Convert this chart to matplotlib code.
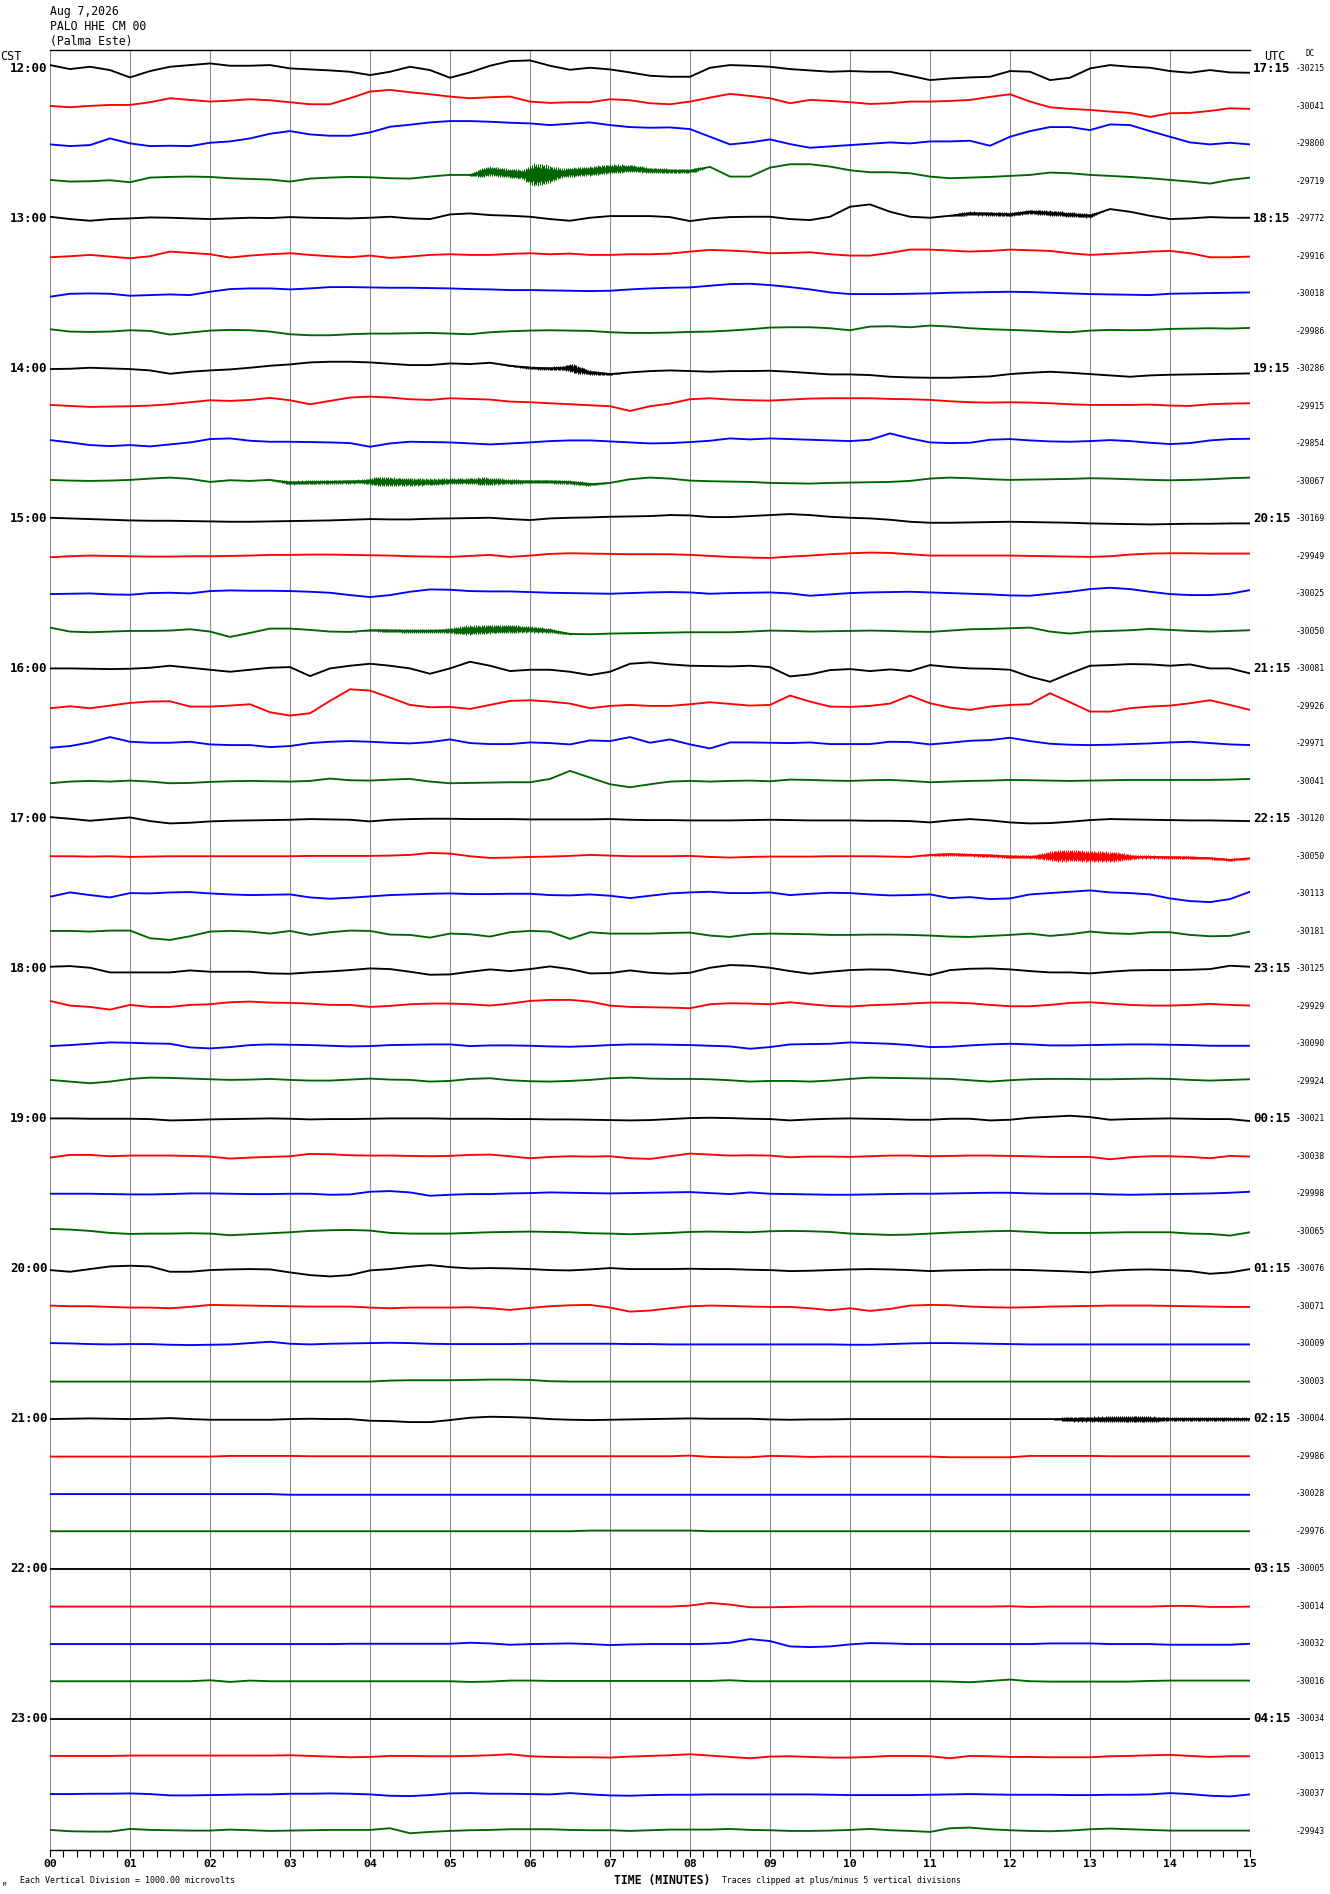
import numpy as np
import matplotlib
matplotlib.use("Agg")
import matplotlib.pyplot as plt
from matplotlib.ticker import MultipleLocator

# ---------------- header / labels ----------------
DATE_LABEL = "Aug 7,2026"
STATION_LABEL = "PALO HHE CM 00"
SITE_LABEL = "(Palma Este)"
CST_HOURS = ["12:00", "13:00", "14:00", "15:00", "16:00", "17:00",
             "18:00", "19:00", "20:00", "21:00", "22:00", "23:00"]
UTC_HOURS = ["17:15", "18:15", "19:15", "20:15", "21:15", "22:15",
             "23:15", "00:15", "01:15", "02:15", "03:15", "04:15"]
MINUTE_LABELS = ["00", "01", "02", "03", "04", "05", "06", "07",
                 "08", "09", "10", "11", "12", "13", "14", "15"]
DC_VALUES = [-30215, -30041, -29800, -29719, -29772, -29916, -30018, -29986,
             -30286, -29915, -29854, -30067, -30169, -29949, -30025, -30050,
             -30081, -29926, -29971, -30041, -30120, -30050, -30113, -30181,
             -30125, -29929, -30090, -29924, -30021, -30038, -29998, -30065,
             -30076, -30071, -30009, -30003, -30004, -29986, -30028, -29976,
             -30005, -30014, -30032, -30016, -30034, -30013, -30037, -29943]
TRACE_COLORS = ["#000000", "#ff0000", "#0000ff", "#006400"]

SAMPLE_STEP_MIN = 0.25      # one value every 15 s
TRACE_SPACING = 112.5       # counts between successive trace baselines

# ---------------- trace offsets (counts, up = positive) ----------------
t1200 = [11,-1,6,-4, -26,-7,6,11, 16,9,9,11, 1,-2,-5,-9, -19,-9,6,-4, -27,-11,9,23, 25,9,-3,3, -2,-11,-21,-24, -24,3,11,9, 6,-1,-5,-9, -7,-9,-9,-21, -34,-29,-26,-24, -7,-9,-34,-27, 1,11,6,3, -7,-12,-4,-11, -12]
t1215 = [1,-3,1,4, 4,12,24,19, 14,17,21,18, 12,6,6,24, 44,49,42,36, 29,24,27,29, 14,10,12,12, 21,18,9,6, 14,26,37,31, 24,9,19,16, 12,7,9,14, 14,16,19,28, 36,14,-3,-8, -11,-16,-20,-32, -21,-20,-14,-6, -8]
t1230 = [-2,-7,-4,16, 1,-7,-6,-7, 3,7,16,30, 38,28,24,24, 34,51,57,64, 68,68,66,63, 61,56,60,64, 56,50,48,49, 44,21,-2,4, 13,-1,-12,-8, -4,0,4,1, 7,7,9,-6, 21,38,50,50, 41,58,56,38, 21,4,-2,3, -2]
t1245 = [4,-1,0,3, -3,11,13,14, 13,9,7,5, -1,8,11,13, 12,9,8,14, 19,19,31,24, 19,21,27,31, 37,39,33,31, 31,43,14,14, 41,51,51,44, 33,27,27,24, 14,9,11,13, 16,19,26,24, 19,16,13,9, 4,-1,-7,4, 11]
t1300 = [6,-1,-6,-1, 1,4,3,1, -1,1,3,2, 5,3,2,1, 3,6,1,-1, 13,16,11,9, 6,-1,-6,3, 8,8,8,5, -7,1,5,6, 6,-1,-4,6, 36,43,21,6, 3,9,16,15, 13,21,17,13, 9,29,21,9, -1,1,5,3, 3]
t1315 = [-3,0,4,-1, -6,0,14,10, 6,-4,2,6, 9,4,0,-3, 2,-5,-1,4, 6,4,4,7, 9,6,8,4, 4,6,6,8, 14,19,17,14, 9,10,12,6, 2,2,10,20, 20,17,14,16, 20,18,16,9, 4,7,10,14, 16,9,-3,-3, -1]
t1330 = [-9,0,1,0, -6,-4,-2,-4, 6,14,16,16, 13,16,20,20, 19,18,18,17, 16,14,13,11, 11,10,9,8, 9,13,16,18, 19,24,29,30, 26,20,13,4, -1,-1,-1,0, 1,3,4,5, 6,5,3,1, -1,-2,-3,-4, 0,1,2,3, 4]
t1345 = [6,-1,-2,-1, 3,1,-10,-4, 2,4,3,-1, -9,-12,-12,-9, -7,-7,-6,-5, -7,-9,-3,0, 2,3,2,1, -3,-5,-5,-4, -2,-1,2,6, 11,12,12,9, 3,14,15,12, 17,14,9,6, 4,2,-1,-3, 2,4,3,4, 7,8,9,8, 10]
t1400 = [-1,0,3,1, -1,-5,-15,-9, -5,-2,3,9, 13,19,21,21, 19,15,11,11, 16,14,18,9, 3,1,3,-11, -16,-11,-7,-5, -7,-9,-7,-7, -6,-9,-13,-17, -17,-19,-24,-26, -27,-27,-25,-23, -16,-12,-9,-12, -16,-20,-24,-20, -18,-17,-16,-15, -14]
t1415 = [4,1,-2,-1, 0,2,6,12, 18,16,19,25, 18,6,16,26, 29,26,21,19, 24,22,20,14, 12,9,6,3, 0,-14,0,8, 21,24,20,18, 17,20,23,24, 24,24,22,21, 19,15,12,11, 12,11,9,6, 4,4,4,5, 2,1,6,8, 9]
t1430 = [11,4,-4,-7, -4,-8,-2,4, 14,16,9,6, 6,5,4,2, -9,1,6,5, 4,1,-2,1, 4,8,10,10, 7,4,1,2, 5,9,16,13, 16,14,12,10, 8,12,31,16, 4,2,3,12, 14,10,7,6, 8,11,8,3, -1,2,10,14, 15]
t1445 = [4,2,1,2, 4,8,11,7, -2,3,1,4, -4,-3,-2,-1, 0,-1,-2,-2, 0,1,0,-1, -1,-1,-3,-9, -5,6,11,8, 2,0,-1,-2, -5,-6,-7,-5, -4,-3,-2,1, 8,11,9,6, 4,5,6,7, 9,8,6,4, 3,4,6,9, 11]
t1500 = [3,1,-1,-3, -5,-6,-6,-7, -8,-9,-9,-8, -7,-6,-5,-3, -1,-2,-2,0, 1,2,3,-1, -4,1,3,4, 6,7,8,11, 10,5,5,8, 11,14,11,6, 3,1,-3,-9, -12,-12,-11,-10, -9,-10,-11,-12, -14,-15,-16,-17, -16,-15,-15,-14, -14]
t1515 = [-3,0,2,1, 0,-1,-1,0, 0,1,2,4, 4,5,5,4, 3,2,0,-1, -2,1,4,-2, 2,7,9,8, 7,6,6,6, 4,1,-2,-4, -5,-1,2,6, 9,11,10,6, 2,2,2,2, 2,1,0,-1, -2,0,5,8, 9,9,8,8, 8]
t1530 = [-1,0,1,-2, -3,2,3,1, 8,10,9,9, 8,6,3,-4, -10,-4,6,13, 12,8,7,7, 5,3,2,1, 0,2,4,5, 4,0,2,3, 4,1,-6,-2, 2,4,5,6, 4,2,0,-2, -5,-6,0,6, 14,18,14,6, -1,-4,-4,0, 11]
t1545 = [11,-1,-3,-1, 1,1,2,6, -1,-17,-5,8, 8,4,-1,-2, 3,2,1,1, 2,4,6,7, 6,2,-8,-9, -7,-6,-5,-4, -3,-3,-3,-1, 2,1,-1,0, 1,2,1,-1, -2,2,6,7, 9,11,-1,-7, -1,1,3,7, 4,1,-1,1, 3]
t1600 = [1,1,0,-1, 0,3,9,3, -3,-9,-3,3, 5,-22,1,9, 15,9,1,-15, 1,21,9,-7, -3,-3,-9,-19, -9,15,19,13, 9,8,7,9, 5,-23,-17,-4, -1,-7,-2,-7, 11,5,1,0, -3,-24,-39,-14, 9,11,14,13, 9,13,1,1, -14]
t1615 = [-6,0,-6,2, 10,14,15,-1, -1,2,6,-18, -28,-21,16,51, 47,26,4,-3, -2,-8,4,16, 18,14,8,-6, 1,4,1,1, 6,12,7,2, 4,32,14,-1, -2,1,8,32, 9,-4,-11,-1, 4,6,39,12, -16,-16,-6,-1, 2,9,18,4, -11]
t1630 = [-12,-7,4,20, 6,3,3,6, -2,-4,-4,-10, -7,2,6,8, 6,3,1,5, 13,2,-1,-1, 4,2,-2,10, 8,20,3,13, -2,-14,4,4, 3,2,4,-1, -1,-1,6,5, -2,3,9,11, 18,8,0,-3, -4,-3,-1,1, 4,6,2,-2, -4]
t1645 = [-6,-1,1,-1, 2,-1,-6,-5, -2,0,1,0, -1,1,8,3, 2,5,7,-1, -6,-5,-4,-3, -3,7,31,11, -9,-18,-9,-1, 1,-1,1,2, 0,5,4,2, 1,3,4,1, -3,-1,1,2, 4,3,2,1, 2,3,4,4, 4,4,4,5, 7]
t1700 = [5,0,-6,-1, 4,-7,-14,-12, -8,-6,-5,-4, -3,-1,-2,-3, -8,-3,-1,0, 0,-1,-1,-1, -2,-2,-2,-2, -1,-3,-4,-4, -5,-5,-5,-4, -3,-4,-5,-5, -5,-6,-6,-7, -11,-5,-1,-5, -11,-14,-13,-9, -4,-1,-2,-3, -4,-5,-5,-6, -7]
t1715 = [0,0,-1,0, -2,-1,0,0, 0,0,0,0, 0,1,1,1, 1,2,4,10, 8,0,-5,-4, -2,-1,1,4, 2,0,0,0, 1,-2,-4,-2, -1,-1,-1,0, 0,0,-1,-2, 4,6,4,2, -1,-2,1,2, 0,-1,-2,-2, -3,-4,-6,-11, -6]
t1730 = [-9,4,-4,-11, 2,1,4,5, 1,-2,-4,-3, -2,-11,-15,-12, -8,-4,-2,0, 1,-1,-1,0, 0,-4,-5,-2, -6,-13,-6,1, 4,6,2,2, 4,-4,0,3, 2,-2,-5,-4, -2,-13,-10,-16, -14,-2,2,6, 10,4,2,-2, -14,-22,-25,-16, 6]
t1745 = [1,1,-1,2, 2,-21,-26,-15, -1,1,-1,-7, 1,-11,-3,2, 1,-10,-11,-19, -7,-9,-16,-3, 1,-1,-23,-3, -7,-7,-7,-5, -4,-13,-17,-9, -7,-8,-9,-11, -11,-10,-10,-11, -13,-16,-17,-14, -11,-7,-14,-9, -1,-6,-8,-3, -3,-11,-15,-14, -1]
t1800 = [6,8,3,-11, -11,-11,-11,-5, -9,-9,-9,-14, -15,-11,-8,-4, 1,-1,-9,-18, -17,-9,-2,-7, -1,7,-1,-14, -13,-5,-12,-15, -12,3,11,9, 3,-7,-15,-9, -4,-2,-3,-11, -19,-4,0,1, -2,-7,-11,-11, -14,-9,-5,-4, -4,-3,-1,9, 6]
t1815 = [16,2,-2,-10, 4,-2,-2,4, 6,12,14,11, 10,8,4,4, -2,1,6,8, 8,6,2,8, 16,19,19,14, 2,-2,-3,-4, -6,6,9,8, 6,12,6,1, -1,3,5,8, 11,11,9,4, 0,0,4,10, 12,8,4,2, 2,4,7,4, 2]
t1830 = [-7,-4,0,4, 3,1,0,-11, -14,-10,-4,-2, -3,-4,-6,-8, -7,-4,-3,-2, -2,-7,-5,-5, -6,-8,-9,-7, -4,-2,-2,-3, -4,-6,-8,-15, -10,-2,-1,0, 4,2,0,-4, -10,-9,-5,-2, 0,-2,-5,-5, -4,-3,-2,-2, -3,-4,-6,-6, -6]
t1845 = [4,-1,-6,-1, 7,11,10,8, 6,4,5,7, 4,2,2,5, 8,5,4,-1, 1,7,9,3, 0,-1,1,4, 9,11,8,7, 7,6,3,-1, 1,1,-1,2, 7,11,10,9, 8,7,3,-1, 3,6,7,7, 6,6,7,8, 7,4,2,4, 6]
t1900 = [1,1,0,0, 0,-1,-5,-4, -2,-1,0,1, 0,-2,-1,-1, 0,1,1,1, 0,0,0,-1, -1,-2,-2,-3, -4,-5,-4,-1, 2,3,2,0, -1,-5,-2,0, 1,0,-1,-3, -3,0,0,-5, -3,3,6,9, 5,-3,-1,0, 1,0,-1,-1, -7]
t1915 = [-4,4,4,0, 2,2,2,1, -1,-7,-4,-2, 0,7,6,3, 2,2,1,0, 1,4,5,0, -6,-2,0,-1, 0,-6,-8,0, 8,5,2,3, 2,-3,-1,-1, -2,0,2,2, 0,1,2,2, 1,0,-2,-2, -2,-9,-3,0, 0,-2,-6,1, -1]
t1930 = [0,0,0,-1, -2,-2,-1,1, 1,0,-1,-1, 0,0,-3,-2, 6,8,4,-6, -3,-1,-1,1, 2,4,3,2, 1,2,3,4, 5,2,-1,4, 0,-1,-2,-3, -3,-2,-1,0, 0,1,2,3, 3,1,0,0, 0,-2,-3,-2, -1,0,1,3, 6]
t1945 = [7,5,1,-5, -8,-7,-7,-6, -7,-12,-9,-6, -3,1,3,4, 2,-5,-7,-7, -7,-5,-3,-2, -1,-2,-3,-6, -7,-9,-7,-5, -2,-1,-2,-3, 0,1,0,-2, -7,-9,-11,-10, -7,-4,-2,0, 1,-2,-5,-5, -5,-4,-3,-3, -3,-7,-8,-13, -3]
t2000 = [-4,-9,-1,7, 9,7,-9,-9, -4,-2,-1,-2, -11,-19,-23,-19, -5,-1,6,11, 5,1,2,1, -1,-4,-5,-2, 2,-1,-1,-1, 0,-1,-1,-3, -4,-7,-6,-4, -2,-1,-2,-4, -7,-5,-4,-3, -3,-4,-6,-8, -11,-6,-3,-2, -4,-7,-15,-11, -1]
t2015 = [2,0,0,-2, -4,-4,-6,-2, 4,3,2,1, 0,-1,-1,-1, -4,-6,-4,-4, -4,-3,-6,-11, -5,0,3,4, -4,-16,-13,-6, 0,2,1,-1, -2,-2,-6,-12, -6,-14,-8,2, 4,3,-1,-3, -4,-3,-1,0, 1,2,2,2, 1,0,-1,-2, -2]
t2030 = [2,1,-1,-2, -1,-1,-3,-4, -3,-2,2,6, 0,-2,0,1, 2,3,2,0, -1,-1,-1,-1, 0,0,0,0, 0,-1,-1,-2, -2,-2,-2,-2, -2,-2,-2,-2, -3,-3,-1,1, 2,2,1,0, -1,-2,-2,-2, -2,-2,-2,-2, -2,-2,-2,-2, -2]
t2045 = [-1,-1,-1,-1, -1,-1,-1,-1, -1,-1,-1,-1, -1,-1,-1,-1, -1,2,3,3, 3,4,5,5, 4,0,-1,-1, -1,-1,-1,-1, -1,-1,-1,-1, -1,-1,-1,-1, -1,-1,-1,-1, -1,-1,-1,-1, -1,-1,-1,-1, -1,-1,-1,-1, -1,-1,-1,-1, -1]
t2100 = [-1,0,1,0, -1,0,2,-1, -3,-3,-3,-3, -1,0,-1,-1, -6,-7,-10,-10, -4,3,6,5, 3,-1,-3,-4, -3,-2,-1,0, 1,0,0,0, -2,-3,-2,-2, -1,-1,-1,-1, -1,-1,-1,-1, -1,-1,-1,-1, -1,-1,-1,-1, -1,-1,-1,-1, -1]
t2115 = [-1,-1,-1,-1, -1,-1,-1,-1, -1,1,1,1, 1,0,0,0, 0,0,0,0, 0,0,0,0, 0,0,0,0, 0,0,0,0, 2,-2,-3,-3, 1,0,-2,-1, -1,-1,-1,-1, -1,-3,-3,-3, -3,1,1,1, 1,0,0,0, 0,0,0,0, 0]
t2130 = [-1,-1,-1,-1, -1,-1,-1,-1, -1,-1,-1,-1, -3,-3,-3,-3, -3,-3,-3,-3, -3,-3,-3,-3, -3,-3,-3,-3, -3,-3,-3,-3, -3,-3,-3,-3, -3,-3,-3,-3, -3,-3,-3,-3, -3,-3,-3,-3, -3,-3,-3,-3, -3,-3,-3,-3, -3,-3,-3,-3, -3]
t2145 = [0,0,0,0, 0,0,0,0, 0,0,0,0, 0,0,0,0, 0,0,0,0, 0,0,0,0, 0,0,0,2, 2,2,2,2, 2,0,0,0, 0,0,0,0, 0,0,0,0, 0,0,0,0, 0,0,0,0, 0,0,0,0, 0,0,0,0, 0]
t2200 = [-1,-1,-1,-1, -1,-1,-1,-1, -1,-1,-1,-1, -1,-1,-1,-1, -1,-1,-1,-1, -1,-1,-1,-1, -1,-1,-1,-1, -1,-1,-1,-1, -1,-1,-1,-1, -1,-1,-1,-1, -1,-1,-1,-1, -1,-1,-1,-1, -1,-1,-1,-1, -1,-1,-1,-1, -1,-1,-1,-1, -1]
t2215 = [-1,-1,-1,-1, -1,-1,-1,-1, -1,-1,-1,-1, -1,-1,-1,-1, -1,-1,-1,-1, -1,-1,-1,-1, -1,-1,-1,-1, -1,-1,-1,-1, 2,10,5,-3, -3,-2,-1,-1, -1,-1,-1,-1, -1,-1,-1,-1, 0,-2,-1,-1, -1,-1,-1,-1, 1,1,-2,-2, -1]
t2230 = [-1,-1,-1,-1, -1,-1,-1,-1, -1,-1,-1,-1, -1,-1,-1,0, 0,0,0,0, 0,3,1,-3, -1,0,1,-1, -4,-2,-1,-1, -1,0,3,14, 8,-8,-10,-8, -2,2,1,-1, -1,-1,-1,-1, -1,-1,1,1, 1,-1,-1,-1, -3,-3,-3,-3, 0]
t2245 = [0,0,0,0, 0,0,0,0, 3,-2,2,0, 0,0,0,0, 0,0,0,0, 0,-2,-1,2, 2,1,1,1, 1,1,1,1, 1,1,3,0, 0,0,0,0, 0,0,0,0, 0,-1,-3,1, 5,0,-1,-1, -1,-1,-1,1, 2,2,2,2, 2]
t2300 = [-1,-1,-1,-1, -1,-1,-1,-1, -1,-1,-1,-1, -1,-1,-1,-1, -1,-1,-1,-1, -1,-1,-1,-1, -1,-1,-1,-1, -1,-1,-1,-1, -1,-1,-1,-1, -1,-1,-1,-1, -1,-1,-1,-1, -1,-1,-1,-1, -1,-1,-1,-1, -1,-1,-1,-1, -1,-1,-1,-1, -1]
t2315 = [1,1,1,1, 2,2,2,2, 2,2,2,2, 3,1,-1,-3, -2,1,1,0, 0,1,3,6, 0,-2,-3,-3, -4,-1,1,3, 6,2,-2,-6, -1,0,-2,-4, -4,-2,1,1, 0,-6,1,0, -2,-2,-3,-3, -3,0,1,3, 4,1,-2,0, 0]
t2330 = [-1,-1,0,0, 1,-1,-5,-5, -4,-3,-2,-2, 0,0,1,0, -2,-6,-7,-4, 1,2,0,0, -1,-2,2,-2, -5,-6,-4,-3, -3,-2,-2,-2, -2,-2,-2,-3, -4,-4,-4,-4, -3,-2,-1,-2, -3,-3,-3,-4, -4,-3,-3,-2, 2,-1,-6,-8, -2]
t2345 = [4,0,-1,-1, 7,4,3,2, 2,5,3,1, 2,3,4,4, 4,9,-6,-2, 1,3,4,6, 6,6,4,3, 3,1,3,5, 5,5,7,4, 3,1,1,2, 4,7,3,1, -2,9,11,6, 3,1,0,2, 6,8,6,4, 2,2,2,2, 2]

TRACES = [t1200, t1215, t1230, t1245, t1300, t1315, t1330, t1345,
          t1400, t1415, t1430, t1445, t1500, t1515, t1530, t1545,
          t1600, t1615, t1630, t1645, t1700, t1715, t1730, t1745,
          t1800, t1815, t1830, t1845, t1900, t1915, t1930, t1945,
          t2000, t2015, t2030, t2045, t2100, t2115, t2130, t2145,
          t2200, t2215, t2230, t2245, t2300, t2315, t2330, t2345]

# ---------------- bursts of high-frequency noise: half-amplitude envelopes ----------------
burst_1245_t = [5.2, 5.4, 5.9, 6.05, 6.2, 6.4, 7.0, 7.5, 8.1, 8.2]
burst_1245_a = [0, 14, 14, 35, 30, 14, 14, 8, 6, 0]
burst_1300_t = [11.2, 11.4, 12.2, 12.5, 13.0, 13.2]
burst_1300_a = [0, 6, 6, 8, 6, 0]
burst_1400_t = [5.6, 6.0, 6.4, 6.55, 6.7, 7.0, 7.2]
burst_1400_a = [0, 4, 6, 14, 8, 3, 0]
burst_1445_t = [2.7, 3.0, 3.9, 4.1, 4.8, 5.2, 5.4, 6.0, 6.7, 7.0]
burst_1445_a = [0, 6, 6, 14, 10, 8, 12, 5, 6, 0]
burst_1545_t = [3.8, 4.2, 4.9, 5.2, 5.8, 6.3, 6.6]
burst_1545_a = [0, 5, 6, 14, 12, 6, 0]
burst_1715_t = [10.9, 11.1, 12.3, 12.6, 13.3, 13.6, 15.0]
burst_1715_a = [0, 4, 5, 18, 15, 5, 3]
burst_2100_t = [12.5, 12.7, 13.1, 13.6, 14.0, 15.0]
burst_2100_a = [0, 7, 8, 10, 6, 5]
BURSTS = {3: (burst_1245_t, burst_1245_a), 4: (burst_1300_t, burst_1300_a),
          8: (burst_1400_t, burst_1400_a), 11: (burst_1445_t, burst_1445_a),
          15: (burst_1545_t, burst_1545_a), 21: (burst_1715_t, burst_1715_a),
          36: (burst_2100_t, burst_2100_a)}

# hatch texture used to draw the noise bursts (style only)
HATCH_PATTERN = np.array([1.0, 0.7, 0.95, 0.6, 1.0, 0.8, 0.9, 0.65])
HATCH_STEP_MIN = 1 / 80.0   # one stroke per output pixel

# ---------------- figure ----------------
W, H = 1330, 1894
fig = plt.figure(figsize=(W / 100, H / 100), dpi=100)
fig.patch.set_facecolor("white")
ax = fig.add_axes([50 / W, 44 / H, 1200 / W, 1800 / H])

n = len(TRACES)
ax.set_xlim(0, 15)
ax.set_ylim(-(n - 1) * TRACE_SPACING - TRACE_SPACING / 2, TRACE_SPACING / 2)

for m in range(16):
    ax.axvline(m, color="#8c8c8c", lw=0.8, zorder=0)

for k, vals in enumerate(TRACES):
    vals = np.asarray(vals, dtype=float)
    t = np.arange(len(vals)) * SAMPLE_STEP_MIN
    base = -k * TRACE_SPACING
    col = TRACE_COLORS[k % 4]
    ax.plot(t, base + vals, color=col, lw=1.35, zorder=2)
    if k in BURSTS:
        bt, ba = BURSTS[k]
        tf = np.arange(bt[0], bt[-1], HATCH_STEP_MIN)
        yf = base + np.interp(tf, t, vals)
        env = np.interp(tf, bt, ba) * np.resize(HATCH_PATTERN, len(tf))
        ax.vlines(tf, yf - env, yf + env, color=col, lw=0.75, zorder=2)

mono = "DejaVu Sans Mono"
for h, lab in enumerate(CST_HOURS):
    ax.text(-0.03, -4 * h * TRACE_SPACING, lab, ha="right", va="center",
            fontsize=9, fontweight="bold", family=mono, clip_on=False)
for h, lab in enumerate(UTC_HOURS):
    ax.text(15.04, -4 * h * TRACE_SPACING, lab, ha="left", va="center",
            fontsize=9, fontweight="bold", family=mono, clip_on=False)
for k, dc in enumerate(DC_VALUES):
    ax.text(15.575, -k * TRACE_SPACING, str(dc), ha="left", va="center",
            fontsize=5.8, family=mono, clip_on=False)

for side in ("left", "right"):
    ax.spines[side].set_visible(False)
for side in ("top", "bottom"):
    ax.spines[side].set_color("black")
    ax.spines[side].set_linewidth(1.0)
ax.set_yticks([])
ax.set_xticks(range(16))
ax.set_xticklabels(MINUTE_LABELS, fontsize=8.2, fontweight="bold", family=mono)
ax.xaxis.set_minor_locator(MultipleLocator(1 / 6))
ax.tick_params(axis="x", which="both", direction="out", length=5, width=0.8,
               color="black", pad=1.5)

def ftext(x, y, s, **kw):
    fig.text(x / W, 1 - y / H, s, family=mono, **kw)

ftext(50, 12, DATE_LABEL, fontsize=8.3, ha="left", va="center")
ftext(50, 27, STATION_LABEL, fontsize=8.3, ha="left", va="center")
ftext(50, 42, SITE_LABEL, fontsize=8.3, ha="left", va="center")
ftext(0, 57, "CST", fontsize=8.5, ha="left", va="center")
ftext(1275, 57, "UTC", fontsize=8.5, ha="center", va="center")
ftext(1310, 54, "DC", fontsize=5.5, ha="center", va="center")
ftext(662, 1880, "TIME (MINUTES)", fontsize=8.3, fontweight="bold", ha="center", va="center")
ftext(20, 1880, "Each Vertical Division = 1000.00 microvolts", fontsize=6, ha="left", va="center")
ftext(722, 1880, "Traces clipped at plus/minus 5 vertical divisions", fontsize=5.9, ha="left", va="center")
ftext(3, 1884, "M", fontsize=4, ha="left", va="center")

fig.savefig("out.png", dpi=100, facecolor="white")
